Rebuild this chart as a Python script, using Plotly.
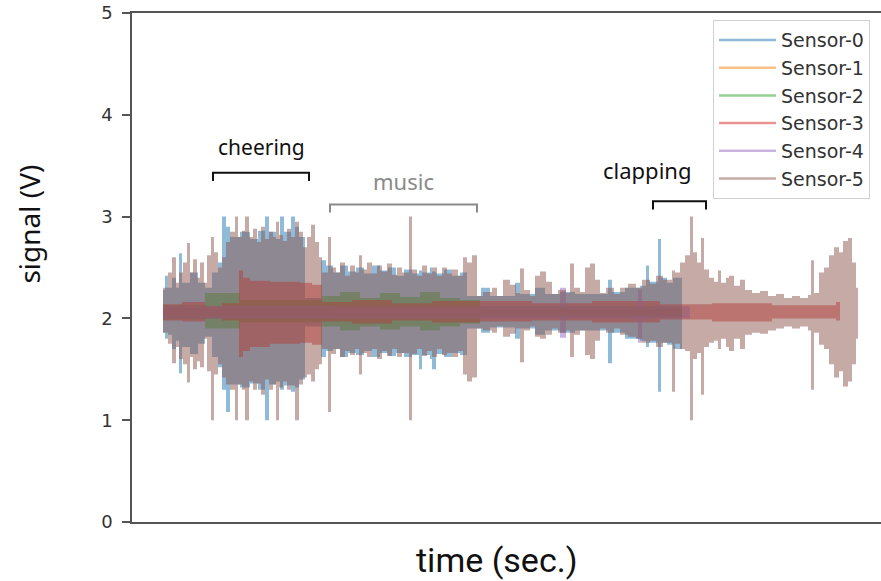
import plotly.graph_objects as go

# ---------------- data (time in s, signal in V) ----------------
sensor_names = ["Sensor-0", "Sensor-1", "Sensor-2", "Sensor-3", "Sensor-4", "Sensor-5"]
colors = ["31,119,180", "255,127,14", "44,160,44", "214,39,40", "148,103,189", "140,86,75"]

# Sensor-0 (blue): segment start times, upper and lower envelope
s0_t = [3.1, 3.3, 3.6, 4.0, 4.4, 4.7, 5.0, 5.8, 6.6, 7.3, 8.0, 8.6, 9.0, 9.4, 9.8, 10.8, 11.8, 12.6,
        13.3, 13.7, 14.4, 14.8, 15.2, 15.9, 16.3, 16.7, 17.3, 18.9, 19.4, 20.1, 20.8, 21.6, 22.4, 23.2,
        24.0, 24.8, 25.6, 26.4, 27.2, 28.0, 28.7, 29.0, 29.8, 30.0, 30.4, 31.2, 32.0, 32.8, 33.5, 34.9,
        35.8, 38.3, 38.8, 40.3, 41.3, 42.8, 44.3, 47.6, 48.0, 49.3, 50.8, 51.4, 51.7, 52.6, 52.9, 53.5,
        54.1]
s0_hi = [2.28, 2.42, 2.30, 2.40, 2.30, 2.64, 2.35, 2.45, 2.35, 2.30, 2.45, 2.55, 3.00, 2.90, 2.80, 2.85,
         2.78, 2.86, 3.00, 2.85, 2.78, 3.00, 2.85, 3.00, 2.90, 2.80, 2.20, 2.57, 2.52, 2.45, 2.52, 2.46,
         2.50, 2.44, 2.52, 2.47, 2.50, 2.42, 2.48, 2.44, 2.47, 2.45, 2.50, 2.46, 2.44, 2.48, 2.42, 2.45,
         2.22, 2.30, 2.22, 2.35, 2.24, 2.30, 2.24, 2.26, 2.24, 2.38, 2.26, 2.30, 2.32, 2.52, 2.36, 2.78,
         2.40, 2.35, 2.40]
s0_lo = [1.86, 1.80, 1.84, 1.70, 1.78, 1.46, 1.72, 1.65, 1.75, 1.82, 1.62, 1.52, 1.30, 1.08, 1.35, 1.32,
         1.36, 1.30, 1.00, 1.35, 1.38, 1.30, 1.34, 1.28, 1.32, 1.40, 1.92, 1.62, 1.68, 1.70, 1.62, 1.66,
         1.64, 1.68, 1.62, 1.66, 1.63, 1.66, 1.62, 1.64, 1.50, 1.64, 1.60, 1.50, 1.65, 1.62, 1.66, 1.64,
         1.90, 1.86, 1.91, 1.80, 1.90, 1.84, 1.88, 1.86, 1.88, 1.56, 1.86, 1.80, 1.78, 1.72, 1.76, 1.28,
         1.76, 1.74, 1.70]
s0_end = 55.0

# Sensor-1 (orange): hidden under the others
s1_t = [3.1, 20.0, 35.0]
s1_hi = [2.11, 2.12, 2.10]
s1_lo = [2.02, 2.01, 2.03]
s1_end = 55.0

# Sensor-2 (green)
s2_t = [3.1, 7.3, 10.8, 19.0, 20.8, 22.8, 24.8, 26.8, 28.8, 30.8, 32.8, 34.8, 46.8]
s2_hi = [2.13, 2.25, 2.18, 2.22, 2.26, 2.20, 2.25, 2.21, 2.26, 2.20, 2.18, 2.12, 2.12]
s2_lo = [1.99, 1.90, 1.96, 1.92, 1.88, 1.92, 1.89, 1.92, 1.88, 1.92, 1.95, 2.01, 2.01]
s2_end = 55.0

# Sensor-3 (red)
s3_t = [3.1, 5.0, 7.3, 9.0, 10.7, 11.1, 11.8, 13.8, 16.8, 18.0, 19.0, 22.0, 26.0, 30.0, 34.8, 40.0,
        46.0, 52.8, 58.0, 64.0, 68.8, 70.4]
s3_hi = [2.14, 2.16, 2.12, 2.15, 2.47, 2.40, 2.37, 2.36, 2.35, 2.33, 2.16, 2.18, 2.15, 2.17, 2.17, 2.15,
         2.17, 2.14, 2.15, 2.13, 2.13, 2.16]
s3_lo = [1.98, 1.97, 2.00, 1.98, 1.62, 1.68, 1.72, 1.75, 1.76, 1.74, 1.97, 1.95, 1.98, 1.96, 1.97, 1.98,
         1.96, 1.99, 1.97, 2.00, 2.00, 1.98]
s3_end = 70.8

# Sensor-4 (purple)
s4_t = [3.1, 42.8, 43.4, 50.6, 51.0]
s4_hi = [2.12, 2.30, 2.12, 2.28, 2.12]
s4_lo = [2.00, 1.81, 2.00, 1.76, 2.00]
s4_end = 55.8

# Sensor-5 (brown)
s5_t = [3.1, 3.6, 4.0, 4.4, 4.7, 5.1, 5.5, 5.8, 6.1, 6.5, 6.8, 7.2, 7.5, 7.9, 8.2, 8.6, 9.0, 9.4, 9.8,
        10.3, 10.6, 11.0, 11.3, 11.7, 12.1, 12.5, 12.9, 13.3, 13.7, 14.1, 14.4, 14.7, 15.1, 15.5, 15.9,
        16.3, 16.7, 17.1, 17.5, 17.9, 18.3, 18.7, 19.0, 19.6, 19.9, 20.4, 20.8, 21.3, 21.8, 22.3, 22.7,
        23.0, 23.5, 24.0, 24.5, 25.0, 25.5, 26.0, 26.5, 27.0, 27.7, 28.0, 28.5, 29.0, 29.5, 30.0, 30.5,
        31.0, 31.5, 32.0, 32.6, 33.1, 33.5, 34.0, 34.5, 35.1, 36.0, 36.5, 37.1, 37.8, 38.4, 38.8, 39.2,
        39.8, 40.3, 40.8, 41.4, 42.0, 42.6, 43.4, 43.8, 44.2, 44.8, 45.3, 45.8, 46.3, 46.8, 47.4, 48.2,
        48.8, 49.6, 50.4, 51.0, 51.8, 52.4, 53.1, 54.0, 54.3, 54.8, 55.3, 55.8, 56.1, 56.5, 56.9, 57.2,
        57.7, 58.2, 58.6, 58.9, 59.4, 59.7, 60.2, 60.8, 61.3, 62.0, 62.8, 63.6, 64.4, 65.2, 66.0, 66.8,
        67.6, 67.9, 68.2, 68.7, 69.2, 69.7, 70.2, 70.7, 71.1, 71.6, 72.0, 72.4]
s5_hi = [2.30, 2.45, 2.60, 2.35, 2.45, 2.55, 2.74, 2.45, 2.58, 2.40, 2.55, 2.35, 2.62, 2.80, 2.65, 2.50,
         2.60, 2.75, 2.85, 3.00, 2.80, 2.86, 3.00, 2.80, 2.88, 2.75, 2.90, 2.78, 2.85, 2.80, 2.95, 2.82,
         2.76, 2.88, 2.80, 2.95, 2.85, 2.70, 2.80, 2.92, 2.75, 2.60, 2.45, 2.80, 2.50, 2.45, 2.55, 2.42,
         2.52, 2.45, 2.62, 2.48, 2.55, 2.44, 2.52, 2.46, 2.54, 2.43, 2.50, 2.45, 3.00, 2.48, 2.42, 2.52,
         2.44, 2.50, 2.42, 2.50, 2.44, 2.48, 2.42, 2.60, 2.55, 2.62, 2.22, 2.26, 2.30, 2.22, 2.38, 2.33,
         2.25, 2.49, 2.28, 2.22, 2.42, 2.46, 2.36, 2.24, 2.28, 2.25, 2.54, 2.30, 2.26, 2.50, 2.54, 2.38,
         2.25, 2.30, 2.24, 2.30, 2.34, 2.30, 2.38, 2.34, 2.42, 2.38, 2.47, 2.45, 2.55, 2.62, 3.00, 2.65,
         2.55, 2.79, 2.48, 2.40, 2.36, 2.47, 2.35, 2.40, 2.42, 2.32, 2.38, 2.28, 2.25, 2.27, 2.22, 2.24,
         2.20, 2.22, 2.20, 2.23, 2.57, 2.25, 2.45, 2.50, 2.62, 2.70, 2.65, 2.76, 2.79, 2.55, 2.30]
s5_lo = [1.86, 1.75, 1.56, 1.72, 1.60, 1.55, 1.37, 1.62, 1.50, 1.58, 1.52, 1.80, 1.48, 1.00, 1.45, 1.55,
         1.42, 1.35, 1.30, 1.00, 1.35, 1.30, 1.00, 1.38, 1.30, 1.36, 1.25, 1.40, 1.30, 1.35, 1.00, 1.32,
         1.38, 1.30, 1.34, 1.00, 1.35, 1.42, 1.45, 1.38, 1.50, 1.55, 1.70, 1.08, 1.65, 1.70, 1.62, 1.68,
         1.64, 1.70, 1.45, 1.66, 1.62, 1.70, 1.60, 1.68, 1.63, 1.70, 1.62, 1.66, 1.00, 1.65, 1.70, 1.63,
         1.68, 1.62, 1.70, 1.64, 1.66, 1.62, 1.68, 1.45, 1.38, 1.42, 1.90, 1.88, 1.86, 1.92, 1.82, 1.85,
         1.90, 1.57, 1.88, 1.92, 1.82, 1.80, 1.84, 1.90, 1.86, 1.88, 1.62, 1.84, 1.88, 1.64, 1.60, 1.78,
         1.90, 1.86, 1.90, 1.84, 1.82, 1.80, 1.76, 1.78, 1.72, 1.76, 1.28, 1.75, 1.70, 1.68, 1.00, 1.60,
         1.66, 1.25, 1.72, 1.76, 1.78, 1.70, 1.80, 1.72, 1.68, 1.80, 1.70, 1.84, 1.86, 1.85, 1.88, 1.90,
         1.92, 1.90, 1.92, 1.88, 1.30, 1.86, 1.74, 1.70, 1.55, 1.42, 1.48, 1.33, 1.38, 1.55, 1.80]
s5_end = 72.6

# event annotations: label, start, end (s), bracket level (V)
event_labels = ["cheering", "music", "clapping"]
event_start = [8.1, 19.8, 52.1]
event_end = [17.7, 34.5, 57.4]
event_level = [3.43, 3.12, 3.15]
event_text_x = [12.9, 27.1, 51.5]
event_text_level = [3.68, 3.35, 3.46]
event_text_size = [21, 22, 22]
event_colors = ["#111111", "#8a8a8a", "#111111"]

y_ticks = [0, 1, 2, 3, 4, 5]

sensors = [
    (s0_t, s0_hi, s0_lo, s0_end),
    (s1_t, s1_hi, s1_lo, s1_end),
    (s2_t, s2_hi, s2_lo, s2_end),
    (s3_t, s3_hi, s3_lo, s3_end),
    (s4_t, s4_hi, s4_lo, s4_end),
    (s5_t, s5_hi, s5_lo, s5_end),
]


def band(t, hi, lo, t_end):
    edges = list(t) + [t_end]
    xs, ys = [], []
    for i in range(len(t)):
        xs += [edges[i], edges[i + 1]]
        ys += [hi[i], hi[i]]
    for i in reversed(range(len(t))):
        xs += [edges[i + 1], edges[i]]
        ys += [lo[i], lo[i]]
    xs.append(xs[0])
    ys.append(ys[0])
    return xs, ys


fig = go.Figure()
for name, col, (t, hi, lo, te) in zip(sensor_names, colors, sensors):
    xs, ys = band(t, hi, lo, te)
    fig.add_trace(go.Scatter(
        x=xs, y=ys, mode="lines", fill="toself",
        fillcolor=f"rgba({col},0.5)", line=dict(width=0),
        showlegend=False, hoverinfo="skip", name=name,
    ))
# legend entries
for i, (name, col) in enumerate(zip(sensor_names, colors)):
    fig.add_trace(go.Scatter(
        x=[None], y=[None], mode="lines", name=name, legendgroup=f"g{i}",
        line=dict(color=f"rgba({col},0.5)", width=2.5),
    ))

# event brackets and labels
for lab, x0, x1, lv, tx, tl, ts, ec in zip(event_labels, event_start, event_end, event_level,
                                          event_text_x, event_text_level, event_text_size,
                                          event_colors):
    fig.add_shape(type="path", xref="x", yref="y",
                  path=f"M {x0},{lv - 0.08} L {x0},{lv} L {x1},{lv} L {x1},{lv - 0.08}",
                  line=dict(color=ec, width=2))
    fig.add_annotation(x=tx, y=tl, xref="x", yref="y", text=lab, showarrow=False,
                       xanchor="center", yanchor="middle",
                       font=dict(family="Noto Sans", size=ts, color=ec))

fig.add_annotation(x=-0.137, y=0.585, xref="paper", yref="paper", text="signal (V)",
                   showarrow=False, textangle=-90, xanchor="center", yanchor="middle",
                   font=dict(family="Noto Sans", size=28, color="#111111"))
fig.add_annotation(x=0.487, y=-0.074, xref="paper", yref="paper", text="time (sec.)",
                   showarrow=False, xanchor="center", yanchor="middle",
                   font=dict(family="Roboto", size=34, color="#111111"))

fig.update_layout(
    width=881, height=581,
    margin=dict(l=132, r=0, t=13, b=59),
    paper_bgcolor="white", plot_bgcolor="white",
    legend=dict(x=0.7757, y=0.986, xanchor="left", yanchor="top",
                bgcolor="rgba(255,255,255,0.85)", bordercolor="#d0d0d0", borderwidth=1,
                font=dict(family="DejaVu Sans", size=19, color="#333333"),
                itemwidth=57, tracegroupgap=0),
    xaxis=dict(range=[0, 74.9], showgrid=False, zeroline=False, showticklabels=False,
               ticks="", showline=True, linecolor="#555555", linewidth=1.5, mirror=True),
    yaxis=dict(range=[0, 5], tickvals=y_ticks, showgrid=False, zeroline=False,
               ticks="outside", ticklen=8, tickwidth=1.5, tickcolor="#555555",
               showline=True, linecolor="#555555", linewidth=1.5,
               tickfont=dict(family="DejaVu Sans", size=18, color="#333333"),
               ticklabelstandoff=6),
)

fig.write_html("out.html")
